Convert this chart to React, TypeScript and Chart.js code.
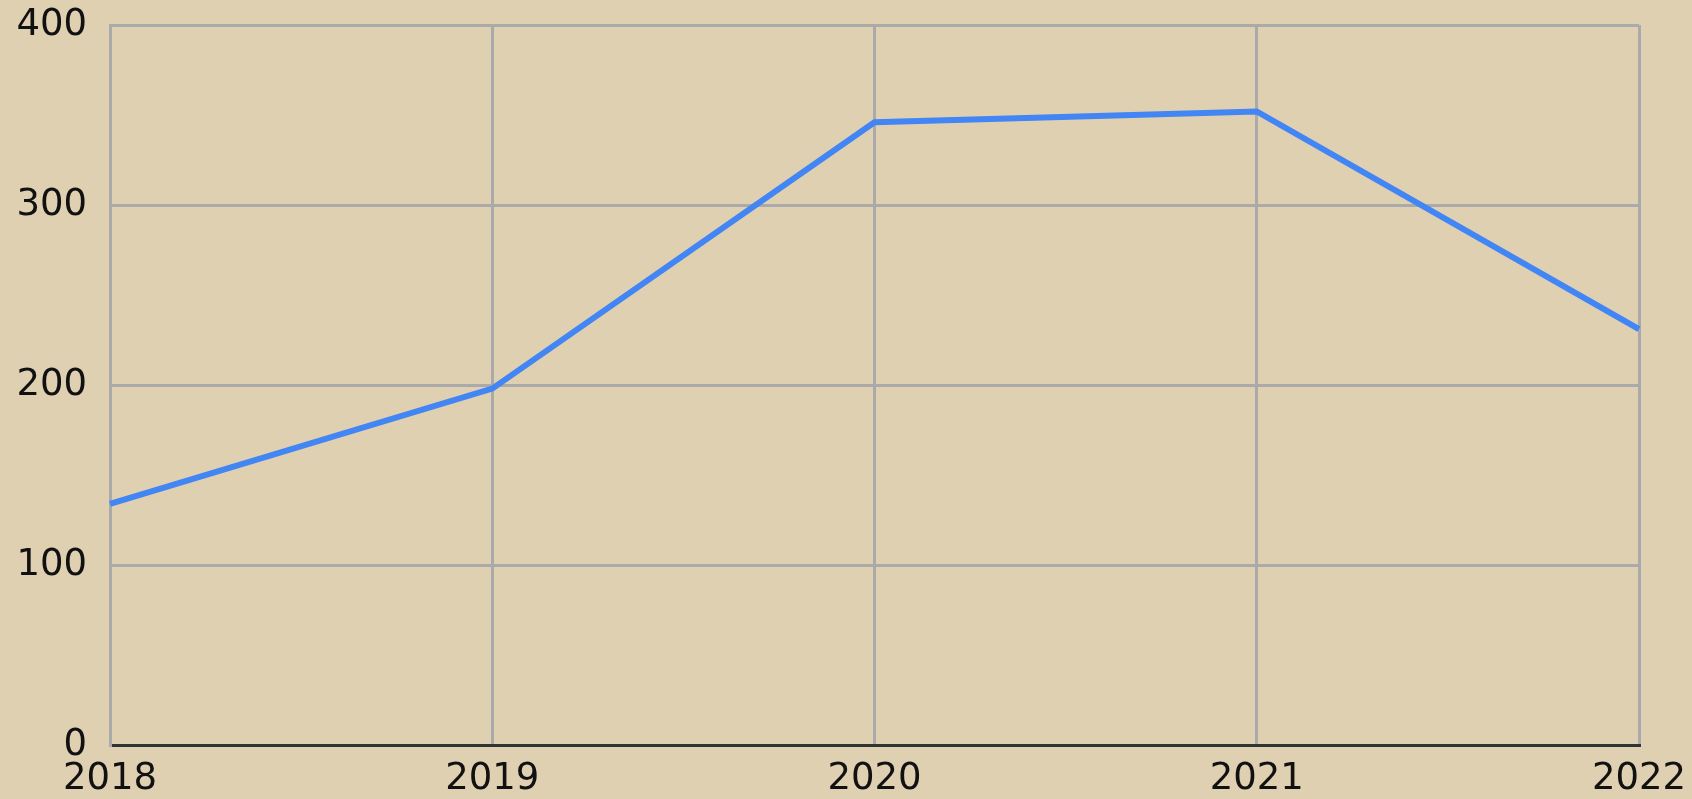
import React, { useEffect, useRef } from "react";
import { Chart, registerables } from "chart.js";

Chart.register(...registerables);

const years = ["2018", "2019", "2020", "2021", "2022"];
const values = [134, 198, 346, 352, 231];
const yTicks = [0, 100, 200, 300, 400];

const bgPlugin = {
  id: "paperBg",
  beforeDraw(chart: any) {
    const { ctx, width, height } = chart;
    ctx.save();
    ctx.fillStyle = "#e0d0b2";
    ctx.fillRect(0, 0, width, height);
    ctx.restore();
  },
};

export default function App() {
  const ref = useRef<HTMLCanvasElement | null>(null);
  useEffect(() => {
    document.body.style.margin = "0";
    const canvas = ref.current!;
    const chart = new Chart(canvas, {
      type: "line",
      data: {
        labels: years,
        datasets: [
          {
            data: values,
            borderColor: "#4285f4",
            borderWidth: 6,
            pointRadius: 0,
            tension: 0,
            fill: false,
          },
        ],
      },
      options: {
        responsive: false,
        animation: false,
        layout: { padding: { left: 0, right: 53, top: 25, bottom: 0 } },
        plugins: { legend: { display: false }, tooltip: { enabled: false } },
        scales: {
          x: {
            afterFit(scale: any) {
              scale.height = 54;
              scale.paddingLeft = 0;
              scale.paddingRight = 0;
            },
            grid: { color: "#aaaaaa", lineWidth: 3, drawTicks: false },
            border: { color: "#333333", width: 3 },
            ticks: {
              color: "#111111",
              padding: 12,
              maxRotation: 0,
              font: { family: "DejaVu Sans", size: 37 },
            },
          },
          y: {
            min: 0,
            max: 400,
            afterFit(scale: any) {
              scale.width = 110;
              scale.paddingTop = 0;
              scale.paddingBottom = 0;
            },
            afterBuildTicks(scale: any) {
              scale.ticks = yTicks.map((v) => ({ value: v }));
            },
            grid: { color: "#aaaaaa", lineWidth: 3, drawTicks: false },
            border: { color: "#aaaaaa", width: 3 },
            ticks: {
              color: "#111111",
              padding: 23,
              font: { family: "DejaVu Sans", size: 37 },
            },
          },
        },
      },
      plugins: [bgPlugin],
    });
    return () => chart.destroy();
  }, []);
  return <canvas ref={ref} width={1692} height={799} style={{ display: "block" }} />;
}
